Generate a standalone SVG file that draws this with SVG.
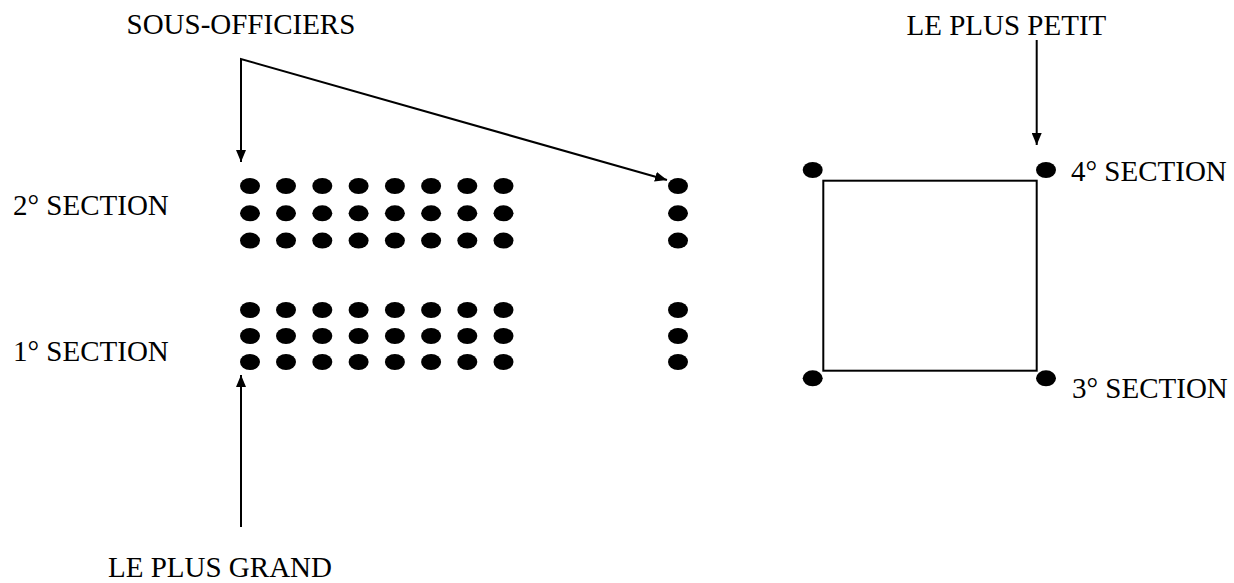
<svg xmlns="http://www.w3.org/2000/svg" width="1234" height="583" viewBox="0 0 1234 583">
<defs>
<style>
text{font-family:"Liberation Serif","Times New Roman",serif;font-size:29px;fill:#000}
.dot{fill:#000}
.ln{stroke:#000;stroke-width:2;fill:none}
</style>
<marker id="ah" viewBox="0 0 12 10" refX="12" refY="5" markerWidth="12" markerHeight="10" markerUnits="userSpaceOnUse" orient="auto-start-reverse">
<path d="M0,0 L12,5 L0,10 z" fill="#000"/>
</marker>
<ellipse id="d" rx="10" ry="8" class="dot"/>
<g id="row">
<use href="#d" x="250"/><use href="#d" x="286"/><use href="#d" x="322.3"/><use href="#d" x="358.6"/><use href="#d" x="394.9"/><use href="#d" x="431.1"/><use href="#d" x="467.3"/><use href="#d" x="503.5"/><use href="#d" x="678"/>
</g>
</defs>
<rect width="1234" height="583" fill="#fff"/>
<g id="section2">
<use href="#row" y="186"/><use href="#row" y="213.3"/><use href="#row" y="240.6"/>
<text x="13" y="215">2° SECTION</text>
</g>
<g id="section1">
<use href="#row" y="310"/><use href="#row" y="336"/><use href="#row" y="362"/>
<text x="13" y="361">1° SECTION</text>
</g>
<g id="square">
<rect x="823.3" y="180.7" width="213.4" height="190" class="ln"/>
<use href="#d" x="812.7" y="170"/><use href="#d" x="1046" y="170"/>
<use href="#d" x="812.7" y="378.3"/><use href="#d" x="1046" y="378.3"/>
<text x="1071" y="181">4° SECTION</text>
<text x="1072" y="398">3° SECTION</text>
</g>
<g id="labels">
<text x="126.5" y="34">SOUS-OFFICIERS</text>
<text x="906.5" y="35">LE PLUS PETIT</text>
<text x="108" y="577">LE PLUS GRAND</text>
</g>
<g id="connectors">
<polyline class="ln" points="241,162 241,59 667,180" marker-start="url(#ah)" marker-end="url(#ah)"/>
<line class="ln" x1="241" y1="527" x2="241" y2="375" marker-end="url(#ah)"/>
<line class="ln" x1="1036.7" y1="40" x2="1036.7" y2="145" marker-end="url(#ah)"/>
</g>
</svg>
